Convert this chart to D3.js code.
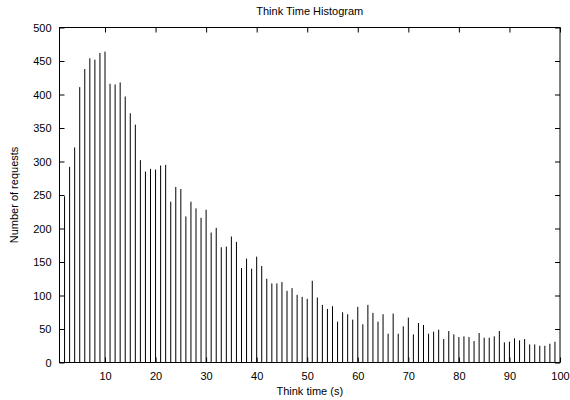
<!DOCTYPE html>
<html>
<head>
<meta charset="utf-8">
<script src="https://cdn.jsdelivr.net/npm/d3@7"></script>
<style>
  html, body { margin: 0; padding: 0; background: #fff; }
  svg { display: block; }
  text { font-family: "Liberation Sans", Arial, Helvetica, sans-serif; font-size: 11px; fill: #000; }
</style>
</head>
<body>
<svg id="chart" width="570" height="400"></svg>
<script>
// Think time bins (seconds) and request counts
const thinkTime = [2,3,4,5,6,7,8,9,10,11,12,13,14,15,16,17,18,19,20,21,22,23,24,25,26,27,28,29,30,
  31,32,33,34,35,36,37,38,39,40,41,42,43,44,45,46,47,48,49,50,51,52,53,54,55,56,57,58,59,60,
  61,62,63,64,65,66,67,68,69,70,71,72,73,74,75,76,77,78,79,80,81,82,83,84,85,86,87,88,89,90,
  91,92,93,94,95,96,97,98,99];
const requests = [248,292,321,411,438,454,452,462,464,416,415,418,397,372,355,302,285,289,288,294,295,240,262,259,218,240,230,
  216,228,194,201,172,173,188,180,141,155,140,158,144,125,
  118,118,120,107,111,101,98,95,122,97,86,80,84,61,75,
  72,64,83,57,86,74,61,72,43,73,43,54,67,42,59,
  56,43,46,49,35,47,42,38,39,38,32,44,37,37,39,
  47,30,31,36,33,35,27,27,25,25,28,31];
const xTicks = [10,20,30,40,50,60,70,80,90,100];
const yTicks = [0,50,100,150,200,250,300,350,400,450,500];
const titleText = "Think Time Histogram";
const xLabel = "Think time (s)";
const yLabel = "Number of requests";

const svg = d3.select("#chart");
const L = 59.5, R = 560, T = 27.5, B = 362.5;
const x = d3.scaleLinear().domain([1, 100]).range([L, R]);
const y = d3.scaleLinear().domain([0, 500]).range([B, T]);
const tickLen = 5;

// bars (impulses)
svg.append("g").selectAll("line").data(thinkTime).join("line")
  .attr("x1", d => x(d)).attr("x2", d => x(d))
  .attr("y1", y(0)).attr("y2", (d, i) => y(requests[i]))
  .attr("stroke", "#000").attr("stroke-width", 1);

// axes with inward ticks
const axB = d3.axisBottom(x).tickValues(xTicks).tickSize(-tickLen).tickPadding(tickLen + 5).tickFormat(d3.format("d"));
const axT = d3.axisTop(x).tickValues(xTicks).tickSize(-tickLen).tickFormat("");
const axLft = d3.axisLeft(y).tickValues(yTicks).tickSize(-tickLen).tickPadding(tickLen + 3).tickFormat(d3.format("d"));
const axRgt = d3.axisRight(y).tickValues(yTicks).tickSize(-tickLen).tickFormat("");

function style(g) {
  g.select(".domain").remove();
  g.selectAll(".tick line").attr("stroke", "#000");
  g.selectAll("text").attr("font-size", 11).attr("font-family", "Liberation Sans, Arial, sans-serif").attr("fill", "#000");
}
svg.append("g").attr("transform", `translate(0,${B})`).call(axB).call(style);
svg.append("g").attr("transform", `translate(0,${T})`).call(axT).call(style);
svg.append("g").attr("transform", `translate(${L},0)`).call(axLft).call(style);
svg.append("g").attr("transform", `translate(${R},0)`).call(axRgt).call(style);

// frame
svg.append("rect").attr("x", L).attr("y", T).attr("width", R - L).attr("height", B - T)
  .attr("fill", "none").attr("stroke", "#000").attr("stroke-width", 1);

// titles
svg.append("text").attr("x", (L + R) / 2).attr("y", 15).attr("text-anchor", "middle").text(titleText);
svg.append("text").attr("x", (L + R) / 2).attr("y", 395).attr("text-anchor", "middle").text(xLabel);
svg.append("text").attr("transform", `translate(18,${(T + B) / 2}) rotate(-90)`).attr("text-anchor", "middle").text(yLabel);
</script>
</body>
</html>
